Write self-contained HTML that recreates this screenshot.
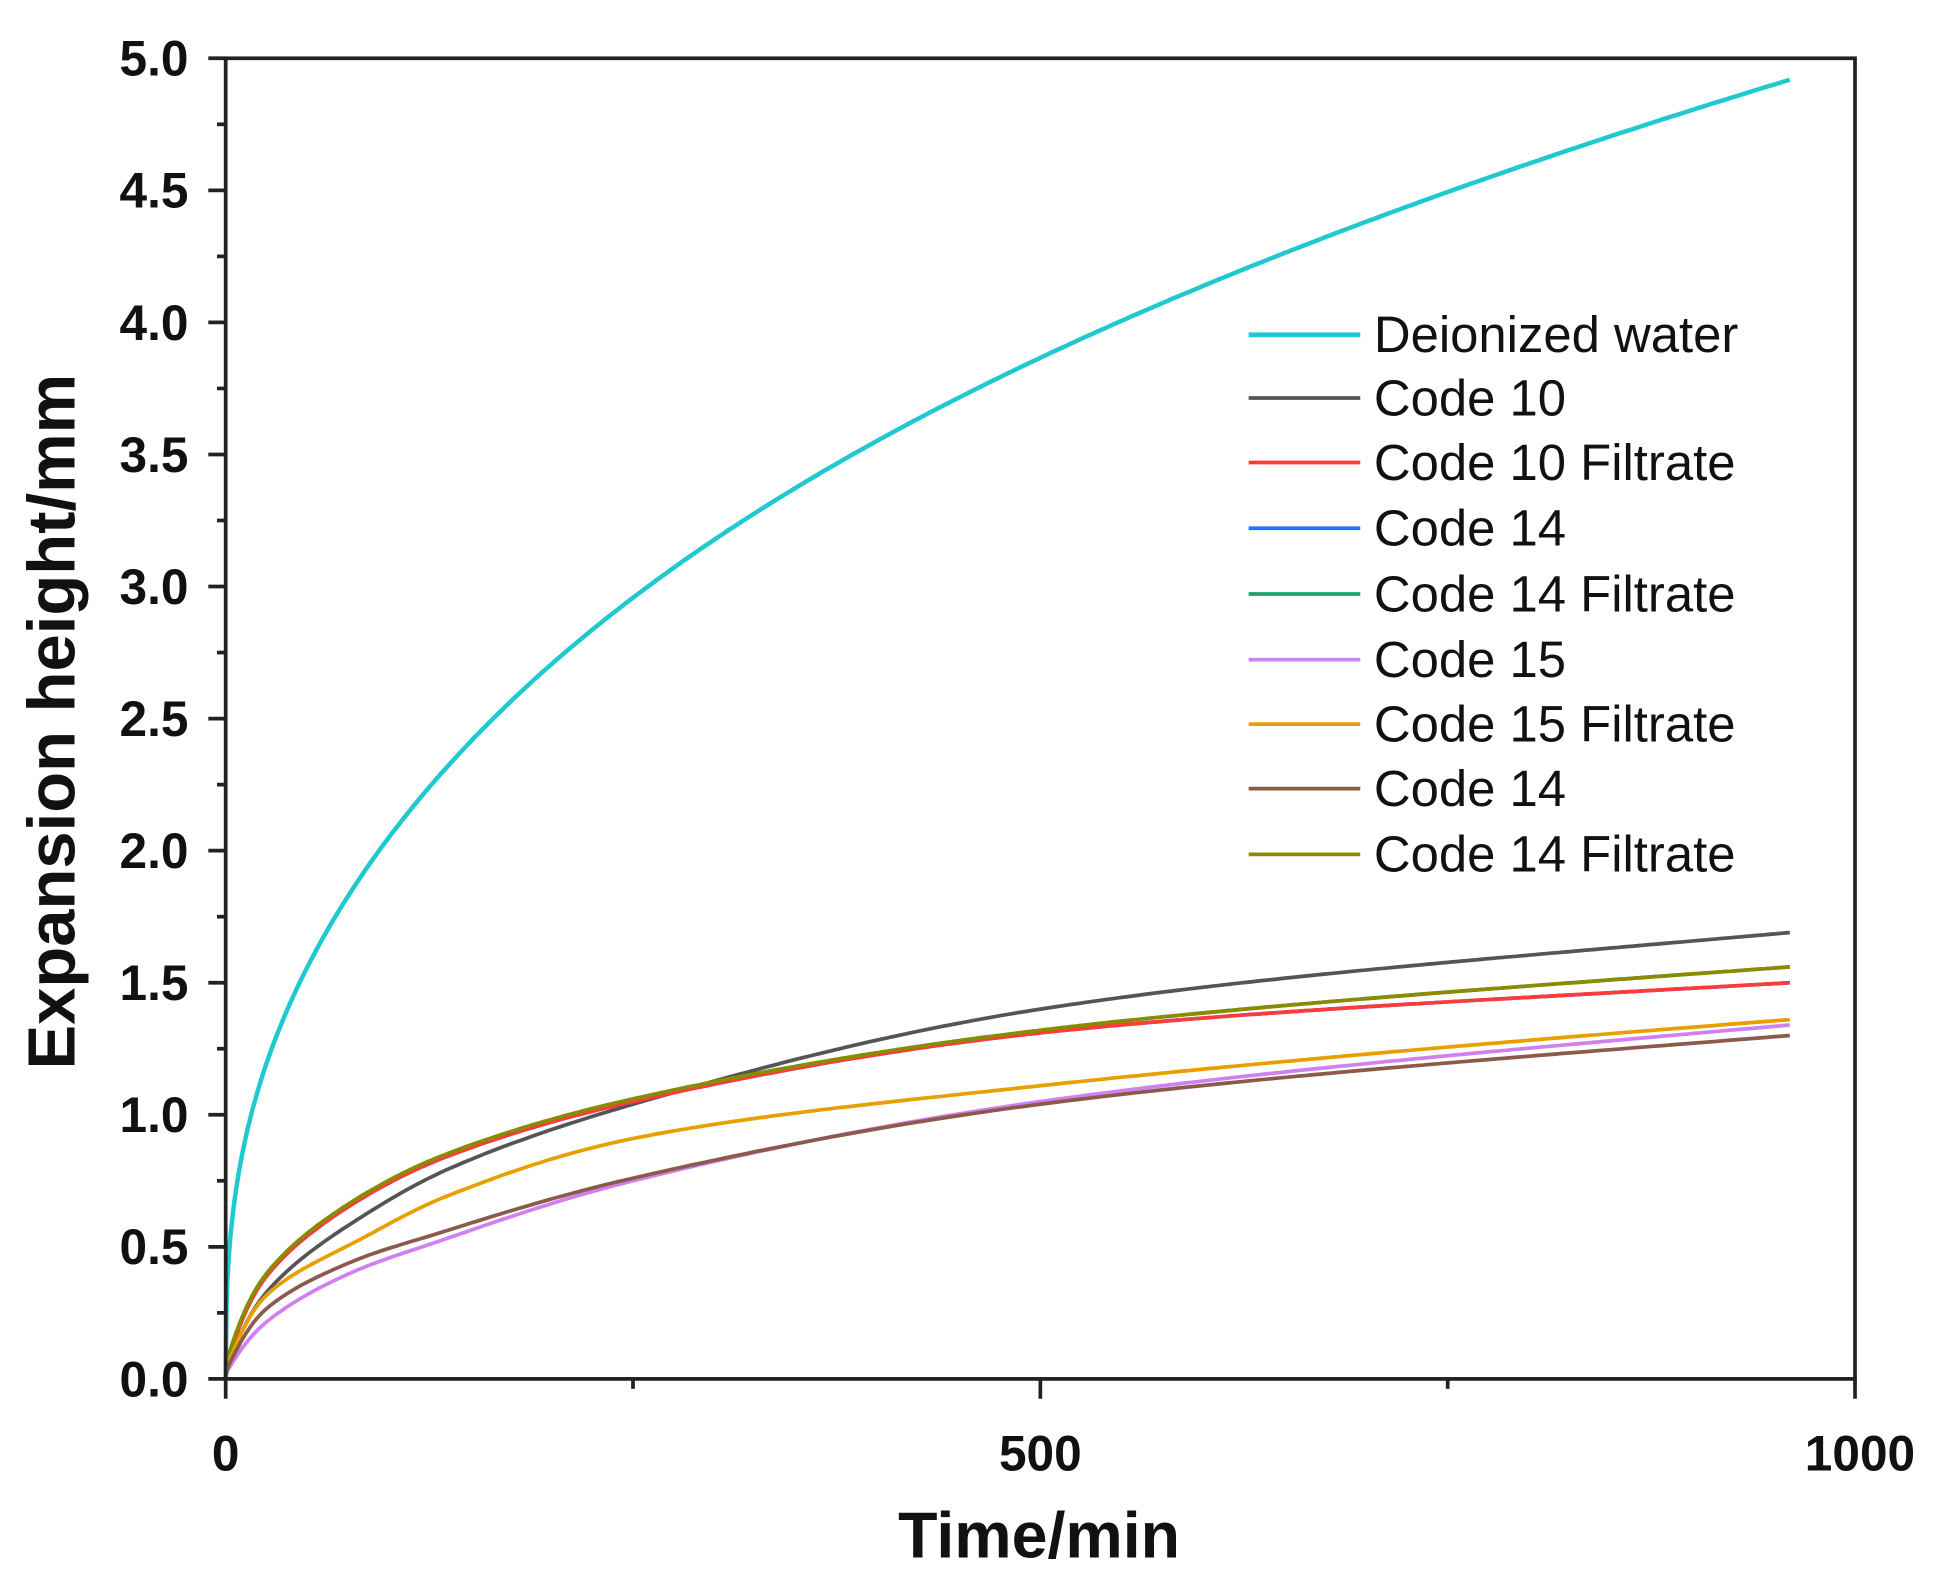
<!DOCTYPE html>
<html><head><meta charset="utf-8"><style>
html,body{margin:0;padding:0;background:#fff;}
svg{display:block;}
text{font-family:"Liberation Sans",sans-serif;}
</style></head><body>
<svg id="s" width="1934" height="1584" viewBox="0 0 1559.7 1277.4" preserveAspectRatio="none" xmlns="http://www.w3.org/2000/svg">
<rect x="0" y="0" width="1559.7" height="1277.4" fill="#fff"/>
<g id="curves" fill="none" stroke-width="3" stroke-linejoin="round"></g>
<rect x="182" y="47" width="1314" height="1065" fill="none" stroke="#222" stroke-width="3"/>
<g id="ticks" stroke="#222" stroke-width="3"></g>
<g font-weight="bold" font-size="40" fill="#111" text-anchor="end" id="ylab"></g>
<g font-weight="bold" font-size="40" fill="#111" text-anchor="middle">
<text x="182" y="1186">0</text><text x="839" y="1186">500</text><text x="1500" y="1186">1000</text>
</g>
<text x="838" y="1256" font-weight="bold" font-size="52" text-anchor="middle" fill="#111">Time/min</text>
<text transform="translate(60,582) rotate(-90)" font-weight="bold" font-size="54" text-anchor="middle" fill="#111">Expansion height/mm</text>
<g id="legend" font-size="41" fill="#111"></g>
</svg>
<script>
var X0=182,Y0=1112,sx=1.314,sy=213;
function px(t){return X0+t*sx} function py(v){return Y0-v*sy}
var T=[0,5,24,80,135,250,500,960];
var U=T.map(function(t){return Math.sqrt(t)});
var redP=[0,0.14,0.38,0.67,0.84,1.05,1.31,1.50];
var oliP=[0,0.15,0.39,0.68,0.85,1.06,1.32,1.56];
var S=[
 ["#1f77ff",redP],
 ["#1aa36b",oliP],
 ["#555555",[0,0.11,0.32,0.60,0.79,1.04,1.40,1.69]],
 ["#ff3a3a",redP],
 ["#8b8b00",oliP],
 ["#d080f0",[0,0.07,0.21,0.41,0.53,0.75,1.05,1.34]],
 ["#e8a000",[0,0.11,0.31,0.52,0.69,0.91,1.11,1.36]],
 ["#8b5a4a",[0,0.09,0.26,0.45,0.56,0.76,1.04,1.30]],
 ["cyan",null]
];
function interp(P,t){var u=Math.sqrt(t),n=U.length;
 for(var i=0;i<n-1;i++){if(u<=U[i+1]){
 var h=U[i+1]-U[i],s=(u-U[i])/h;
 var m1=(i>0?(P[i+1]-P[i-1])/(U[i+1]-U[i-1]):(P[1]-P[0])/h)*h;
 var m2=(i+2<n?(P[i+2]-P[i])/(U[i+2]-U[i]):(P[i+1]-P[i])/h)*h;
 var s2=s*s,s3=s2*s;
 return (2*s3-3*s2+1)*P[i]+(s3-2*s2+s)*m1+(-2*s3+3*s2)*P[i+1]+(s3-s2)*m2;}}
 return P[n-1];}
var g=document.getElementById('curves'),ns="http://www.w3.org/2000/svg";
S.forEach(function(s){
 var d="M"+px(0)+","+py(0);
 for(var t=0.5;t<=960;t+=(t<30?0.5:3)){
  var v=s[1]?interp(s[1],t):0.404*Math.pow(t,0.364)*(1-0.1*Math.exp(-t/150));
  d+=" L"+px(t).toFixed(1)+","+py(v).toFixed(1);}
 var p=document.createElementNS(ns,"path");p.setAttribute("d",d);
 p.setAttribute("stroke",s[1]?s[0]:"#20c8d0");
 if(!s[1])p.setAttribute("stroke-width","3.6");
 g.appendChild(p);
});
var tk=document.getElementById('ticks'),yl=document.getElementById('ylab'),h="";
for(var i=0;i<=10;i++){var y=py(i*0.5);h+='<line x1="168" y1="'+y+'" x2="182" y2="'+y+'"/>';
 yl.innerHTML+='<text x="152" y="'+(y+14)+'">'+(i*0.5).toFixed(1)+'</text>';
 if(i<10){var y2=py(i*0.5+0.25);h+='<line x1="175" y1="'+y2+'" x2="182" y2="'+y2+'"/>';}}
[0,500,1000].forEach(function(t){h+='<line x1="'+px(t)+'" y1="1112" x2="'+px(t)+'" y2="1128"/>'});
[250,750].forEach(function(t){h+='<line x1="'+px(t)+'" y1="1112" x2="'+px(t)+'" y2="1120"/>'});
tk.innerHTML=h;
var leg=[["#20c8d0","Deionized water"],["#555555","Code 10"],["#ff3a3a","Code 10 Filtrate"],["#1f77ff","Code 14"],["#1aa36b","Code 14 Filtrate"],["#d080f0","Code 15"],["#e8a000","Code 15 Filtrate"],["#8b5a4a","Code 14"],["#8b8b00","Code 14 Filtrate"]];
var ys=[270,321,373,426,479,532,584,636,689],lh="";
leg.forEach(function(l,i){lh+='<line x1="1007" y1="'+ys[i]+'" x2="1097" y2="'+ys[i]+'" stroke="'+l[0]+'" stroke-width="'+(i==0?4:3)+'"/><text x="1108" y="'+(ys[i]+14)+'">'+l[1]+'</text>';});
document.getElementById('legend').innerHTML=lh;
</script>
</body></html>
